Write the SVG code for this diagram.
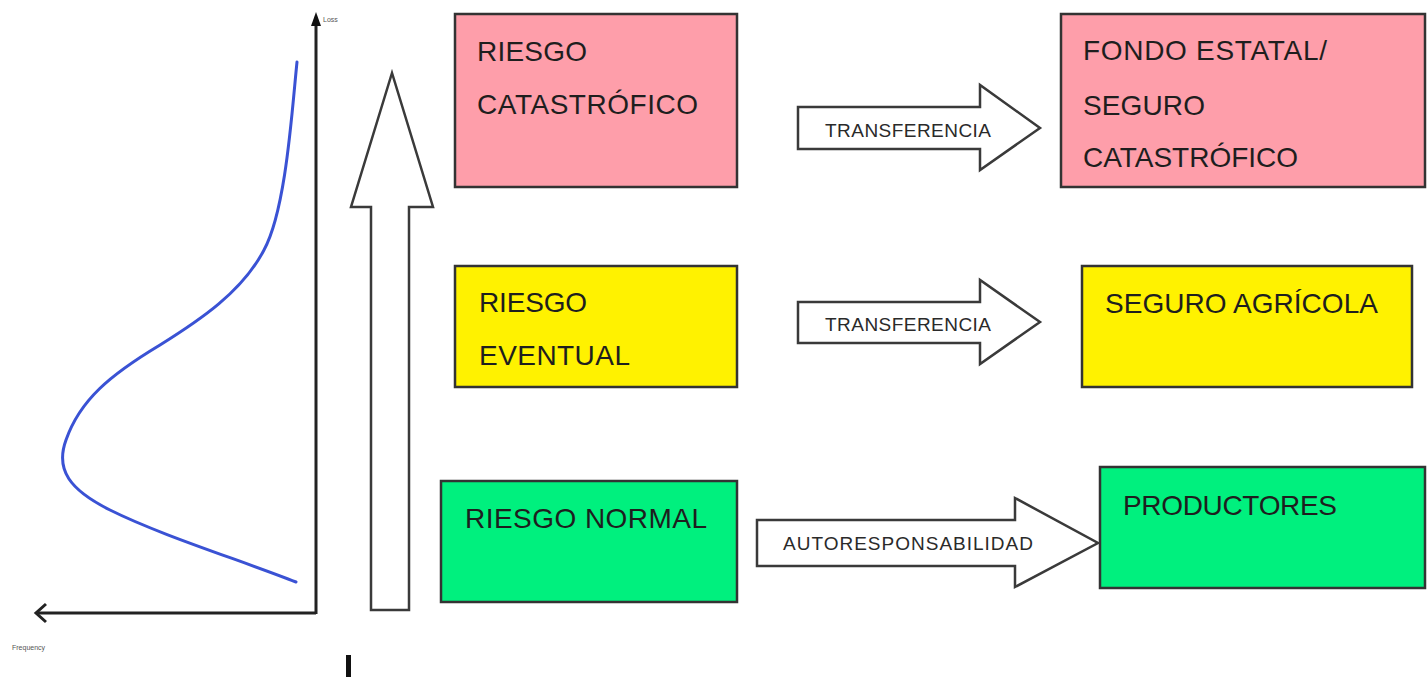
<svg xmlns="http://www.w3.org/2000/svg" width="1427" height="677" viewBox="0 0 1427 677">
<style>
.box{stroke:#333;stroke-width:2.5}
.pink{fill:#FE9EAA}
.yellow{fill:#FFF200}
.green{fill:#00F07E}
.lbl{font-family:"Liberation Sans",Arial,sans-serif;font-size:28px;fill:#1e1e1e}
.alb{font-family:"Liberation Sans",Arial,sans-serif;font-size:19px;fill:#2a2a2a}
.blk{fill:#fff;stroke:#3a3a3a;stroke-width:2.5;stroke-linejoin:miter}
.tiny{font-family:"Liberation Sans",Arial,sans-serif;font-size:7px;fill:#555}
.axis{stroke:#222;stroke-width:3;fill:none}
</style>
<rect width="1427" height="677" fill="#fff"/>

<g id="chart">
<line class="axis" x1="316" y1="614" x2="316" y2="22"/>
<path d="M316,12 L311,26 L321,26 Z" fill="#111"/>
<line class="axis" x1="316" y1="613" x2="38" y2="613"/>
<path class="axis" d="M46,604 L36,613 L46,622"/>
<text class="tiny" x="323" y="22">Loss</text>
<text class="tiny" x="12" y="650">Frequency</text>
<path d="M297,62 C292,110 286,210 264,250 C242,292 200,320 160,345 C110,375 80,400 66,440 C55,470 70,490 110,510 C160,535 240,560 296,582" fill="none" stroke="#3a52d4" stroke-width="3" stroke-linecap="round"/>
</g>

<g id="big-arrow">
<path class="blk" d="M371,610 L371,207 L351,207 L392,73 L433,207 L409,207 L409,610 Z"/>
</g>

<rect x="346" y="655" width="5" height="22" fill="#111"/>

<g id="riesgo-catastrofico">
<rect class="box pink" x="455" y="14" width="282" height="173"/>
<text class="lbl" x="477" y="61" textLength="110">RIESGO</text>
<text class="lbl" x="477" y="114" textLength="221">CATASTRÓFICO</text>
</g>

<g id="fondo-estatal">
<rect class="box pink" x="1061" y="14" width="364" height="173"/>
<text class="lbl" x="1083" y="60" textLength="244">FONDO ESTATAL/</text>
<text class="lbl" x="1083" y="115" textLength="122">SEGURO</text>
<text class="lbl" x="1083" y="167" textLength="215">CATASTRÓFICO</text>
</g>

<g id="riesgo-eventual">
<rect class="box yellow" x="455" y="266" width="282" height="121"/>
<text class="lbl" x="479" y="312" textLength="108">RIESGO</text>
<text class="lbl" x="479" y="365" textLength="151">EVENTUAL</text>
</g>

<g id="seguro-agricola">
<rect class="box yellow" x="1082" y="266" width="330" height="121"/>
<text class="lbl" x="1105" y="313" textLength="273">SEGURO AGRÍCOLA</text>
</g>

<g id="riesgo-normal">
<rect class="box green" x="441" y="481" width="296" height="121"/>
<text class="lbl" x="465" y="528" textLength="242">RIESGO NORMAL</text>
</g>

<g id="productores">
<rect class="box green" x="1100" y="467" width="325" height="121"/>
<text class="lbl" x="1123" y="515" textLength="214">PRODUCTORES</text>
</g>

<g id="connectors">
<g id="arrow-transferencia-1">
<path class="blk" d="M798,107 L980,107 L980,85 L1040,128 L980,170 L980,149 L798,149 Z"/>
<text class="alb" x="825" y="137" textLength="166">TRANSFERENCIA</text>
</g>
<g id="arrow-transferencia-2">
<path class="blk" d="M798,302 L980,302 L980,280 L1040,322 L980,364 L980,343 L798,343 Z"/>
<text class="alb" x="825" y="331" textLength="166">TRANSFERENCIA</text>
</g>
<g id="arrow-autoresponsabilidad">
<path class="blk" d="M757,520 L1015,520 L1015,498 L1098,543 L1015,587 L1015,566 L757,566 Z"/>
<text class="alb" x="783" y="550" textLength="250">AUTORESPONSABILIDAD</text>
</g>
</g>
</svg>
